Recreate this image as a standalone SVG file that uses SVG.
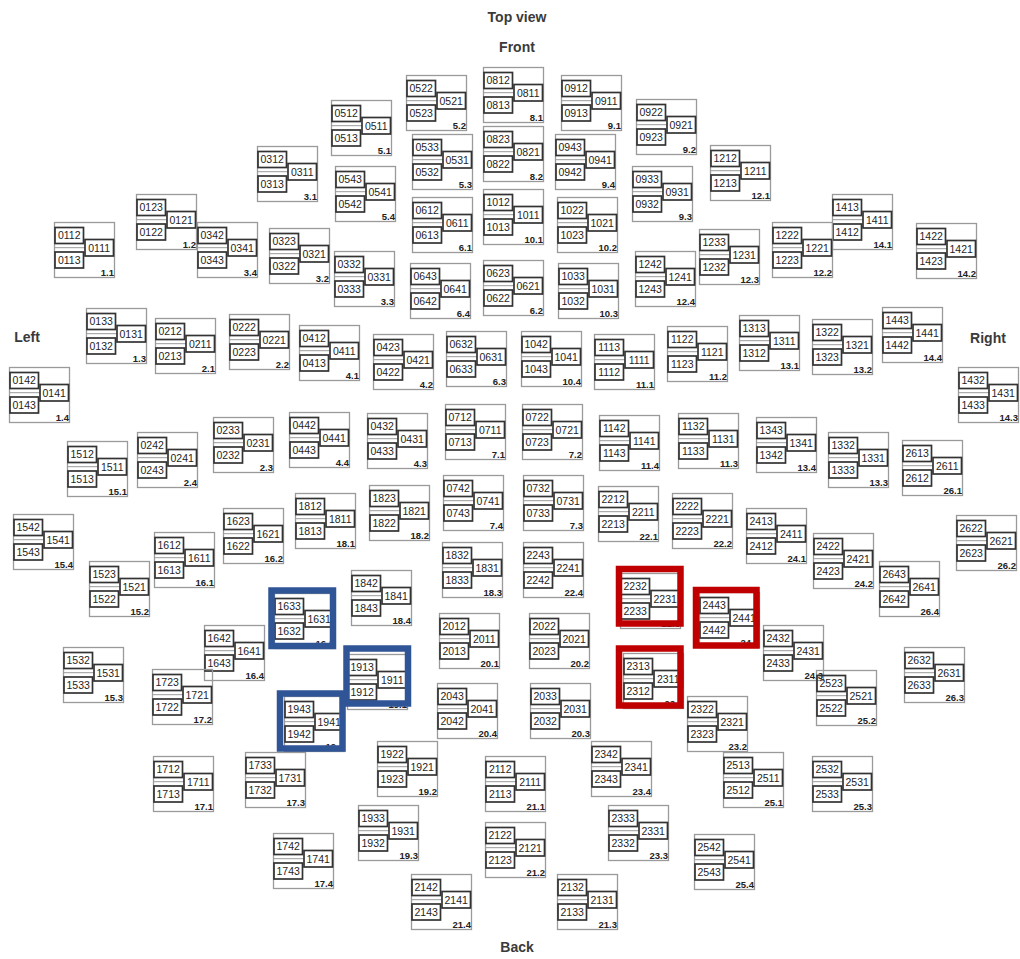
<svg xmlns="http://www.w3.org/2000/svg" xmlns:xlink="http://www.w3.org/1999/xlink" width="1020" height="959" viewBox="0 0 1020 959">
<style>
.o{fill:none;stroke:#9a9a9a;stroke-width:1.3}
.i{fill:none;stroke:#333;stroke-width:1.7}
.h{stroke:#9a9a9a;stroke-width:1}
.a{font-family:"Liberation Sans",Arial,sans-serif;font-size:10.5px;fill:#1e1e1e;text-anchor:middle}
.n{font-family:"Liberation Sans",Arial,sans-serif;font-size:9.5px;font-weight:bold;fill:#222;text-anchor:end}
.t{font-family:"Liberation Sans",Arial,sans-serif;font-size:14px;font-weight:bold;fill:#3a3a3a;text-anchor:middle}
.fb{fill:none;stroke:#2f5597;stroke-width:6.5}
.fr{fill:none;stroke:#c00000;stroke-width:6.5}
</style>
<defs>
<g id="mod">
<rect class="o" x="0.5" y="0.5" width="60" height="55"/>
<line class="h" x1="0.5" y1="25.7" x2="31" y2="25.7"/>
<rect class="i" x="1" y="5.5" width="28.5" height="16"/>
<rect class="i" x="31" y="17.5" width="28.5" height="16.5"/>
<rect class="i" x="1" y="30" width="28.5" height="16"/>
</g>
</defs>
<rect width="1020" height="959" fill="#fff"/>
<g id="labels">
<text class="t" x="517" y="22">Top view</text>
<text class="t" x="517" y="52">Front</text>
<text class="t" x="27" y="342">Left</text>
<text class="t" x="988" y="343">Right</text>
<text class="t" x="517" y="952">Back</text>
</g>
<g id="modules">
<g id="loc1-1" transform="translate(54,222)"><use href="#mod"/><text class="a" x="15.2" y="17.4">0112</text><text class="a" x="45.2" y="29.7">0111</text><text class="a" x="15.2" y="41.9">0113</text><text class="n" x="60" y="54">1.1</text></g>
<g id="loc1-2" transform="translate(136,194)"><use href="#mod"/><text class="a" x="15.2" y="17.4">0123</text><text class="a" x="45.2" y="29.7">0121</text><text class="a" x="15.2" y="41.9">0122</text><text class="n" x="60" y="54">1.2</text></g>
<g id="loc3-4" transform="translate(197,222)"><use href="#mod"/><text class="a" x="15.2" y="17.4">0342</text><text class="a" x="45.2" y="29.7">0341</text><text class="a" x="15.2" y="41.9">0343</text><text class="n" x="60" y="54">3.4</text></g>
<g id="loc3-1" transform="translate(257,146)"><use href="#mod"/><text class="a" x="15.2" y="17.4">0312</text><text class="a" x="45.2" y="29.7">0311</text><text class="a" x="15.2" y="41.9">0313</text><text class="n" x="60" y="54">3.1</text></g>
<g id="loc3-2" transform="translate(269,228)"><use href="#mod"/><text class="a" x="15.2" y="17.4">0323</text><text class="a" x="45.2" y="29.7">0321</text><text class="a" x="15.2" y="41.9">0322</text><text class="n" x="60" y="54">3.2</text></g>
<g id="loc3-3" transform="translate(334,251)"><use href="#mod"/><text class="a" x="15.2" y="17.4">0332</text><text class="a" x="45.2" y="29.7">0331</text><text class="a" x="15.2" y="41.9">0333</text><text class="n" x="60" y="54">3.3</text></g>
<g id="loc5-1" transform="translate(331,100)"><use href="#mod"/><text class="a" x="15.2" y="17.4">0512</text><text class="a" x="45.2" y="29.7">0511</text><text class="a" x="15.2" y="41.9">0513</text><text class="n" x="60" y="54">5.1</text></g>
<g id="loc5-2" transform="translate(406,75)"><use href="#mod"/><text class="a" x="15.2" y="17.4">0522</text><text class="a" x="45.2" y="29.7">0521</text><text class="a" x="15.2" y="41.9">0523</text><text class="n" x="60" y="54">5.2</text></g>
<g id="loc5-3" transform="translate(412,134)"><use href="#mod"/><text class="a" x="15.2" y="17.4">0533</text><text class="a" x="45.2" y="29.7">0531</text><text class="a" x="15.2" y="41.9">0532</text><text class="n" x="60" y="54">5.3</text></g>
<g id="loc5-4" transform="translate(335,166)"><use href="#mod"/><text class="a" x="15.2" y="17.4">0543</text><text class="a" x="45.2" y="29.7">0541</text><text class="a" x="15.2" y="41.9">0542</text><text class="n" x="60" y="54">5.4</text></g>
<g id="loc6-1" transform="translate(412,197)"><use href="#mod"/><text class="a" x="15.2" y="17.4">0612</text><text class="a" x="45.2" y="29.7">0611</text><text class="a" x="15.2" y="41.9">0613</text><text class="n" x="60" y="54">6.1</text></g>
<g id="loc6-4" transform="translate(410,263)"><use href="#mod"/><text class="a" x="15.2" y="17.4">0643</text><text class="a" x="45.2" y="29.7">0641</text><text class="a" x="15.2" y="41.9">0642</text><text class="n" x="60" y="54">6.4</text></g>
<g id="loc8-1" transform="translate(483,67)"><use href="#mod"/><text class="a" x="15.2" y="17.4">0812</text><text class="a" x="45.2" y="29.7">0811</text><text class="a" x="15.2" y="41.9">0813</text><text class="n" x="60" y="54">8.1</text></g>
<g id="loc8-2" transform="translate(483,126)"><use href="#mod"/><text class="a" x="15.2" y="17.4">0823</text><text class="a" x="45.2" y="29.7">0821</text><text class="a" x="15.2" y="41.9">0822</text><text class="n" x="60" y="54">8.2</text></g>
<g id="loc10-1" transform="translate(483,189)"><use href="#mod"/><text class="a" x="15.2" y="17.4">1012</text><text class="a" x="45.2" y="29.7">1011</text><text class="a" x="15.2" y="41.9">1013</text><text class="n" x="60" y="54">10.1</text></g>
<g id="loc6-2" transform="translate(483,260)"><use href="#mod"/><text class="a" x="15.2" y="17.4">0623</text><text class="a" x="45.2" y="29.7">0621</text><text class="a" x="15.2" y="41.9">0622</text><text class="n" x="60" y="54">6.2</text></g>
<g id="loc9-1" transform="translate(561,75)"><use href="#mod"/><text class="a" x="15.2" y="17.4">0912</text><text class="a" x="45.2" y="29.7">0911</text><text class="a" x="15.2" y="41.9">0913</text><text class="n" x="60" y="54">9.1</text></g>
<g id="loc9-4" transform="translate(555,134)"><use href="#mod"/><text class="a" x="15.2" y="17.4">0943</text><text class="a" x="45.2" y="29.7">0941</text><text class="a" x="15.2" y="41.9">0942</text><text class="n" x="60" y="54">9.4</text></g>
<g id="loc9-2" transform="translate(636,99)"><use href="#mod"/><text class="a" x="15.2" y="17.4">0922</text><text class="a" x="45.2" y="29.7">0921</text><text class="a" x="15.2" y="41.9">0923</text><text class="n" x="60" y="54">9.2</text></g>
<g id="loc9-3" transform="translate(632,166)"><use href="#mod"/><text class="a" x="15.2" y="17.4">0933</text><text class="a" x="45.2" y="29.7">0931</text><text class="a" x="15.2" y="41.9">0932</text><text class="n" x="60" y="54">9.3</text></g>
<g id="loc12-1" transform="translate(710,145)"><use href="#mod"/><text class="a" x="15.2" y="17.4">1212</text><text class="a" x="45.2" y="29.7">1211</text><text class="a" x="15.2" y="41.9">1213</text><text class="n" x="60" y="54">12.1</text></g>
<g id="loc10-2" transform="translate(557,197)"><use href="#mod"/><text class="a" x="15.2" y="17.4">1022</text><text class="a" x="45.2" y="29.7">1021</text><text class="a" x="15.2" y="41.9">1023</text><text class="n" x="60" y="54">10.2</text></g>
<g id="loc12-3" transform="translate(699,229)"><use href="#mod"/><text class="a" x="15.2" y="17.4">1233</text><text class="a" x="45.2" y="29.7">1231</text><text class="a" x="15.2" y="41.9">1232</text><text class="n" x="60" y="54">12.3</text></g>
<g id="loc12-4" transform="translate(635,251)"><use href="#mod"/><text class="a" x="15.2" y="17.4">1242</text><text class="a" x="45.2" y="29.7">1241</text><text class="a" x="15.2" y="41.9">1243</text><text class="n" x="60" y="54">12.4</text></g>
<g id="loc10-3" transform="translate(558,263)"><use href="#mod"/><text class="a" x="15.2" y="17.4">1033</text><text class="a" x="45.2" y="29.7">1031</text><text class="a" x="15.2" y="41.9">1032</text><text class="n" x="60" y="54">10.3</text></g>
<g id="loc14-1" transform="translate(832,194)"><use href="#mod"/><text class="a" x="15.2" y="17.4">1413</text><text class="a" x="45.2" y="29.7">1411</text><text class="a" x="15.2" y="41.9">1412</text><text class="n" x="60" y="54">14.1</text></g>
<g id="loc12-2" transform="translate(772,222)"><use href="#mod"/><text class="a" x="15.2" y="17.4">1222</text><text class="a" x="45.2" y="29.7">1221</text><text class="a" x="15.2" y="41.9">1223</text><text class="n" x="60" y="54">12.2</text></g>
<g id="loc14-2" transform="translate(916,223)"><use href="#mod"/><text class="a" x="15.2" y="17.4">1422</text><text class="a" x="45.2" y="29.7">1421</text><text class="a" x="15.2" y="41.9">1423</text><text class="n" x="60" y="54">14.2</text></g>
<g id="loc1-3" transform="translate(86,308)"><use href="#mod"/><text class="a" x="15.2" y="17.4">0133</text><text class="a" x="45.2" y="29.7">0131</text><text class="a" x="15.2" y="41.9">0132</text><text class="n" x="60" y="54">1.3</text></g>
<g id="loc2-1" transform="translate(155,318)"><use href="#mod"/><text class="a" x="15.2" y="17.4">0212</text><text class="a" x="45.2" y="29.7">0211</text><text class="a" x="15.2" y="41.9">0213</text><text class="n" x="60" y="54">2.1</text></g>
<g id="loc2-2" transform="translate(229,314)"><use href="#mod"/><text class="a" x="15.2" y="17.4">0222</text><text class="a" x="45.2" y="29.7">0221</text><text class="a" x="15.2" y="41.9">0223</text><text class="n" x="60" y="54">2.2</text></g>
<g id="loc1-4" transform="translate(9,367)"><use href="#mod"/><text class="a" x="15.2" y="17.4">0142</text><text class="a" x="45.2" y="29.7">0141</text><text class="a" x="15.2" y="41.9">0143</text><text class="n" x="60" y="54">1.4</text></g>
<g id="loc15-1" transform="translate(67,441)"><use href="#mod"/><text class="a" x="15.2" y="17.4">1512</text><text class="a" x="45.2" y="29.7">1511</text><text class="a" x="15.2" y="41.9">1513</text><text class="n" x="60" y="54">15.1</text></g>
<g id="loc2-4" transform="translate(137,432)"><use href="#mod"/><text class="a" x="15.2" y="17.4">0242</text><text class="a" x="45.2" y="29.7">0241</text><text class="a" x="15.2" y="41.9">0243</text><text class="n" x="60" y="54">2.4</text></g>
<g id="loc2-3" transform="translate(213,417)"><use href="#mod"/><text class="a" x="15.2" y="17.4">0233</text><text class="a" x="45.2" y="29.7">0231</text><text class="a" x="15.2" y="41.9">0232</text><text class="n" x="60" y="54">2.3</text></g>
<g id="loc15-4" transform="translate(13,514)"><use href="#mod"/><text class="a" x="15.2" y="17.4">1542</text><text class="a" x="45.2" y="29.7">1541</text><text class="a" x="15.2" y="41.9">1543</text><text class="n" x="60" y="54">15.4</text></g>
<g id="loc16-1" transform="translate(154,532)"><use href="#mod"/><text class="a" x="15.2" y="17.4">1612</text><text class="a" x="45.2" y="29.7">1611</text><text class="a" x="15.2" y="41.9">1613</text><text class="n" x="60" y="54">16.1</text></g>
<g id="loc16-2" transform="translate(223,508)"><use href="#mod"/><text class="a" x="15.2" y="17.4">1623</text><text class="a" x="45.2" y="29.7">1621</text><text class="a" x="15.2" y="41.9">1622</text><text class="n" x="60" y="54">16.2</text></g>
<g id="loc15-2" transform="translate(89,561)"><use href="#mod"/><text class="a" x="15.2" y="17.4">1523</text><text class="a" x="45.2" y="29.7">1521</text><text class="a" x="15.2" y="41.9">1522</text><text class="n" x="60" y="54">15.2</text></g>
<g id="loc4-1" transform="translate(299,325)"><use href="#mod"/><text class="a" x="15.2" y="17.4">0412</text><text class="a" x="45.2" y="29.7">0411</text><text class="a" x="15.2" y="41.9">0413</text><text class="n" x="60" y="54">4.1</text></g>
<g id="loc4-2" transform="translate(373,334)"><use href="#mod"/><text class="a" x="15.2" y="17.4">0423</text><text class="a" x="45.2" y="29.7">0421</text><text class="a" x="15.2" y="41.9">0422</text><text class="n" x="60" y="54">4.2</text></g>
<g id="loc6-3" transform="translate(446,331)"><use href="#mod"/><text class="a" x="15.2" y="17.4">0632</text><text class="a" x="45.2" y="29.7">0631</text><text class="a" x="15.2" y="41.9">0633</text><text class="n" x="60" y="54">6.3</text></g>
<g id="loc4-4" transform="translate(289,412)"><use href="#mod"/><text class="a" x="15.2" y="17.4">0442</text><text class="a" x="45.2" y="29.7">0441</text><text class="a" x="15.2" y="41.9">0443</text><text class="n" x="60" y="54">4.4</text></g>
<g id="loc4-3" transform="translate(367,413)"><use href="#mod"/><text class="a" x="15.2" y="17.4">0432</text><text class="a" x="45.2" y="29.7">0431</text><text class="a" x="15.2" y="41.9">0433</text><text class="n" x="60" y="54">4.3</text></g>
<g id="loc7-1" transform="translate(445,404)"><use href="#mod"/><text class="a" x="15.2" y="17.4">0712</text><text class="a" x="45.2" y="29.7">0711</text><text class="a" x="15.2" y="41.9">0713</text><text class="n" x="60" y="54">7.1</text></g>
<g id="loc18-1" transform="translate(295,493)"><use href="#mod"/><text class="a" x="15.2" y="17.4">1812</text><text class="a" x="45.2" y="29.7">1811</text><text class="a" x="15.2" y="41.9">1813</text><text class="n" x="60" y="54">18.1</text></g>
<g id="loc18-2" transform="translate(369,485)"><use href="#mod"/><text class="a" x="15.2" y="17.4">1823</text><text class="a" x="45.2" y="29.7">1821</text><text class="a" x="15.2" y="41.9">1822</text><text class="n" x="60" y="54">18.2</text></g>
<g id="loc7-4" transform="translate(443,475)"><use href="#mod"/><text class="a" x="15.2" y="17.4">0742</text><text class="a" x="45.2" y="29.7">0741</text><text class="a" x="15.2" y="41.9">0743</text><text class="n" x="60" y="54">7.4</text></g>
<g id="loc18-3" transform="translate(442,542)"><use href="#mod"/><text class="a" x="15.2" y="17.4">1832</text><text class="a" x="45.2" y="29.7">1831</text><text class="a" x="15.2" y="41.9">1833</text><text class="n" x="60" y="54">18.3</text></g>
<g id="loc18-4" transform="translate(351,570)"><use href="#mod"/><text class="a" x="15.2" y="17.4">1842</text><text class="a" x="45.2" y="29.7">1841</text><text class="a" x="15.2" y="41.9">1843</text><text class="n" x="60" y="54">18.4</text></g>
<g id="loc16-3" transform="translate(274,593)"><use href="#mod"/><text class="a" x="15.2" y="17.4">1633</text><text class="a" x="45.2" y="29.7">1631</text><text class="a" x="15.2" y="41.9">1632</text><text class="n" x="60" y="54">16.3</text></g>
<g id="loc20-1" transform="translate(439,613)"><use href="#mod"/><text class="a" x="15.2" y="17.4">2012</text><text class="a" x="45.2" y="29.7">2011</text><text class="a" x="15.2" y="41.9">2013</text><text class="n" x="60" y="54">20.1</text></g>
<g id="loc10-4" transform="translate(521,331)"><use href="#mod"/><text class="a" x="15.2" y="17.4">1042</text><text class="a" x="45.2" y="29.7">1041</text><text class="a" x="15.2" y="41.9">1043</text><text class="n" x="60" y="54">10.4</text></g>
<g id="loc11-1" transform="translate(594,334)"><use href="#mod"/><text class="a" x="15.2" y="17.4">1113</text><text class="a" x="45.2" y="29.7">1111</text><text class="a" x="15.2" y="41.9">1112</text><text class="n" x="60" y="54">11.1</text></g>
<g id="loc11-2" transform="translate(667,326)"><use href="#mod"/><text class="a" x="15.2" y="17.4">1122</text><text class="a" x="45.2" y="29.7">1121</text><text class="a" x="15.2" y="41.9">1123</text><text class="n" x="60" y="54">11.2</text></g>
<g id="loc13-1" transform="translate(739,315)"><use href="#mod"/><text class="a" x="15.2" y="17.4">1313</text><text class="a" x="45.2" y="29.7">1311</text><text class="a" x="15.2" y="41.9">1312</text><text class="n" x="60" y="54">13.1</text></g>
<g id="loc7-2" transform="translate(522,404)"><use href="#mod"/><text class="a" x="15.2" y="17.4">0722</text><text class="a" x="45.2" y="29.7">0721</text><text class="a" x="15.2" y="41.9">0723</text><text class="n" x="60" y="54">7.2</text></g>
<g id="loc11-4" transform="translate(599,415)"><use href="#mod"/><text class="a" x="15.2" y="17.4">1142</text><text class="a" x="45.2" y="29.7">1141</text><text class="a" x="15.2" y="41.9">1143</text><text class="n" x="60" y="54">11.4</text></g>
<g id="loc11-3" transform="translate(678,413)"><use href="#mod"/><text class="a" x="15.2" y="17.4">1132</text><text class="a" x="45.2" y="29.7">1131</text><text class="a" x="15.2" y="41.9">1133</text><text class="n" x="60" y="54">11.3</text></g>
<g id="loc7-3" transform="translate(523,475)"><use href="#mod"/><text class="a" x="15.2" y="17.4">0732</text><text class="a" x="45.2" y="29.7">0731</text><text class="a" x="15.2" y="41.9">0733</text><text class="n" x="60" y="54">7.3</text></g>
<g id="loc22-1" transform="translate(598,486)"><use href="#mod"/><text class="a" x="15.2" y="17.4">2212</text><text class="a" x="45.2" y="29.7">2211</text><text class="a" x="15.2" y="41.9">2213</text><text class="n" x="60" y="54">22.1</text></g>
<g id="loc22-2" transform="translate(672,493)"><use href="#mod"/><text class="a" x="15.2" y="17.4">2222</text><text class="a" x="45.2" y="29.7">2221</text><text class="a" x="15.2" y="41.9">2223</text><text class="n" x="60" y="54">22.2</text></g>
<g id="loc22-4" transform="translate(523,542)"><use href="#mod"/><text class="a" x="15.2" y="17.4">2243</text><text class="a" x="45.2" y="29.7">2241</text><text class="a" x="15.2" y="41.9">2242</text><text class="n" x="60" y="54">22.4</text></g>
<g id="loc22-3" transform="translate(620,573)"><use href="#mod"/><text class="a" x="15.2" y="17.4">2232</text><text class="a" x="45.2" y="29.7">2231</text><text class="a" x="15.2" y="41.9">2233</text><text class="n" x="60" y="54">22.3</text></g>
<g id="loc24-4" transform="translate(699,592)"><use href="#mod"/><text class="a" x="15.2" y="17.4">2443</text><text class="a" x="45.2" y="29.7">2441</text><text class="a" x="15.2" y="41.9">2442</text><text class="n" x="60" y="54">24.4</text></g>
<g id="loc20-2" transform="translate(529,613)"><use href="#mod"/><text class="a" x="15.2" y="17.4">2022</text><text class="a" x="45.2" y="29.7">2021</text><text class="a" x="15.2" y="41.9">2023</text><text class="n" x="60" y="54">20.2</text></g>
<g id="loc13-2" transform="translate(812,319)"><use href="#mod"/><text class="a" x="15.2" y="17.4">1322</text><text class="a" x="45.2" y="29.7">1321</text><text class="a" x="15.2" y="41.9">1323</text><text class="n" x="60" y="54">13.2</text></g>
<g id="loc14-4" transform="translate(882,307)"><use href="#mod"/><text class="a" x="15.2" y="17.4">1443</text><text class="a" x="45.2" y="29.7">1441</text><text class="a" x="15.2" y="41.9">1442</text><text class="n" x="60" y="54">14.4</text></g>
<g id="loc14-3" transform="translate(958,367)"><use href="#mod"/><text class="a" x="15.2" y="17.4">1432</text><text class="a" x="45.2" y="29.7">1431</text><text class="a" x="15.2" y="41.9">1433</text><text class="n" x="60" y="54">14.3</text></g>
<g id="loc13-4" transform="translate(756,417)"><use href="#mod"/><text class="a" x="15.2" y="17.4">1343</text><text class="a" x="45.2" y="29.7">1341</text><text class="a" x="15.2" y="41.9">1342</text><text class="n" x="60" y="54">13.4</text></g>
<g id="loc13-3" transform="translate(828,432)"><use href="#mod"/><text class="a" x="15.2" y="17.4">1332</text><text class="a" x="45.2" y="29.7">1331</text><text class="a" x="15.2" y="41.9">1333</text><text class="n" x="60" y="54">13.3</text></g>
<g id="loc26-1" transform="translate(902,440)"><use href="#mod"/><text class="a" x="15.2" y="17.4">2613</text><text class="a" x="45.2" y="29.7">2611</text><text class="a" x="15.2" y="41.9">2612</text><text class="n" x="60" y="54">26.1</text></g>
<g id="loc24-1" transform="translate(746,508)"><use href="#mod"/><text class="a" x="15.2" y="17.4">2413</text><text class="a" x="45.2" y="29.7">2411</text><text class="a" x="15.2" y="41.9">2412</text><text class="n" x="60" y="54">24.1</text></g>
<g id="loc24-2" transform="translate(813,533)"><use href="#mod"/><text class="a" x="15.2" y="17.4">2422</text><text class="a" x="45.2" y="29.7">2421</text><text class="a" x="15.2" y="41.9">2423</text><text class="n" x="60" y="54">24.2</text></g>
<g id="loc26-4" transform="translate(879,561)"><use href="#mod"/><text class="a" x="15.2" y="17.4">2643</text><text class="a" x="45.2" y="29.7">2641</text><text class="a" x="15.2" y="41.9">2642</text><text class="n" x="60" y="54">26.4</text></g>
<g id="loc26-2" transform="translate(956,515)"><use href="#mod"/><text class="a" x="15.2" y="17.4">2622</text><text class="a" x="45.2" y="29.7">2621</text><text class="a" x="15.2" y="41.9">2623</text><text class="n" x="60" y="54">26.2</text></g>
<g id="loc24-3" transform="translate(763,625)"><use href="#mod"/><text class="a" x="15.2" y="17.4">2432</text><text class="a" x="45.2" y="29.7">2431</text><text class="a" x="15.2" y="41.9">2433</text><text class="n" x="60" y="54">24.3</text></g>
<g id="loc15-3" transform="translate(63,647)"><use href="#mod"/><text class="a" x="15.2" y="17.4">1532</text><text class="a" x="45.2" y="29.7">1531</text><text class="a" x="15.2" y="41.9">1533</text><text class="n" x="60" y="54">15.3</text></g>
<g id="loc16-4" transform="translate(204,625)"><use href="#mod"/><text class="a" x="15.2" y="17.4">1642</text><text class="a" x="45.2" y="29.7">1641</text><text class="a" x="15.2" y="41.9">1643</text><text class="n" x="60" y="54">16.4</text></g>
<g id="loc17-2" transform="translate(152,669)"><use href="#mod"/><text class="a" x="15.2" y="17.4">1723</text><text class="a" x="45.2" y="29.7">1721</text><text class="a" x="15.2" y="41.9">1722</text><text class="n" x="60" y="54">17.2</text></g>
<g id="loc17-1" transform="translate(153,756)"><use href="#mod"/><text class="a" x="15.2" y="17.4">1712</text><text class="a" x="45.2" y="29.7">1711</text><text class="a" x="15.2" y="41.9">1713</text><text class="n" x="60" y="54">17.1</text></g>
<g id="loc17-3" transform="translate(245,752)"><use href="#mod"/><text class="a" x="15.2" y="17.4">1733</text><text class="a" x="45.2" y="29.7">1731</text><text class="a" x="15.2" y="41.9">1732</text><text class="n" x="60" y="54">17.3</text></g>
<g id="loc19-1" transform="translate(347,654)"><use href="#mod"/><text class="a" x="15.2" y="17.4">1913</text><text class="a" x="45.2" y="29.7">1911</text><text class="a" x="15.2" y="41.9">1912</text><text class="n" x="60" y="54">19.1</text></g>
<g id="loc19-4" transform="translate(284,696)"><use href="#mod"/><text class="a" x="15.2" y="17.4">1943</text><text class="a" x="45.2" y="29.7">1941</text><text class="a" x="15.2" y="41.9">1942</text><text class="n" x="60" y="54">19.4</text></g>
<g id="loc20-4" transform="translate(437,683)"><use href="#mod"/><text class="a" x="15.2" y="17.4">2043</text><text class="a" x="45.2" y="29.7">2041</text><text class="a" x="15.2" y="41.9">2042</text><text class="n" x="60" y="54">20.4</text></g>
<g id="loc19-2" transform="translate(377,741)"><use href="#mod"/><text class="a" x="15.2" y="17.4">1922</text><text class="a" x="45.2" y="29.7">1921</text><text class="a" x="15.2" y="41.9">1923</text><text class="n" x="60" y="54">19.2</text></g>
<g id="loc19-3" transform="translate(358,805)"><use href="#mod"/><text class="a" x="15.2" y="17.4">1933</text><text class="a" x="45.2" y="29.7">1931</text><text class="a" x="15.2" y="41.9">1932</text><text class="n" x="60" y="54">19.3</text></g>
<g id="loc17-4" transform="translate(273,833)"><use href="#mod"/><text class="a" x="15.2" y="17.4">1742</text><text class="a" x="45.2" y="29.7">1741</text><text class="a" x="15.2" y="41.9">1743</text><text class="n" x="60" y="54">17.4</text></g>
<g id="loc21-1" transform="translate(485,756)"><use href="#mod"/><text class="a" x="15.2" y="17.4">2112</text><text class="a" x="45.2" y="29.7">2111</text><text class="a" x="15.2" y="41.9">2113</text><text class="n" x="60" y="54">21.1</text></g>
<g id="loc21-2" transform="translate(485,822)"><use href="#mod"/><text class="a" x="15.2" y="17.4">2122</text><text class="a" x="45.2" y="29.7">2121</text><text class="a" x="15.2" y="41.9">2123</text><text class="n" x="60" y="54">21.2</text></g>
<g id="loc21-4" transform="translate(411,874)"><use href="#mod"/><text class="a" x="15.2" y="17.4">2142</text><text class="a" x="45.2" y="29.7">2141</text><text class="a" x="15.2" y="41.9">2143</text><text class="n" x="60" y="54">21.4</text></g>
<g id="loc23-1" transform="translate(623,653)"><use href="#mod"/><text class="a" x="15.2" y="17.4">2313</text><text class="a" x="45.2" y="29.7">2311</text><text class="a" x="15.2" y="41.9">2312</text><text class="n" x="60" y="54">23.1</text></g>
<g id="loc20-3" transform="translate(530,683)"><use href="#mod"/><text class="a" x="15.2" y="17.4">2033</text><text class="a" x="45.2" y="29.7">2031</text><text class="a" x="15.2" y="41.9">2032</text><text class="n" x="60" y="54">20.3</text></g>
<g id="loc23-2" transform="translate(687,696)"><use href="#mod"/><text class="a" x="15.2" y="17.4">2322</text><text class="a" x="45.2" y="29.7">2321</text><text class="a" x="15.2" y="41.9">2323</text><text class="n" x="60" y="54">23.2</text></g>
<g id="loc23-4" transform="translate(591,741)"><use href="#mod"/><text class="a" x="15.2" y="17.4">2342</text><text class="a" x="45.2" y="29.7">2341</text><text class="a" x="15.2" y="41.9">2343</text><text class="n" x="60" y="54">23.4</text></g>
<g id="loc25-1" transform="translate(723,752)"><use href="#mod"/><text class="a" x="15.2" y="17.4">2513</text><text class="a" x="45.2" y="29.7">2511</text><text class="a" x="15.2" y="41.9">2512</text><text class="n" x="60" y="54">25.1</text></g>
<g id="loc23-3" transform="translate(608,805)"><use href="#mod"/><text class="a" x="15.2" y="17.4">2333</text><text class="a" x="45.2" y="29.7">2331</text><text class="a" x="15.2" y="41.9">2332</text><text class="n" x="60" y="54">23.3</text></g>
<g id="loc25-4" transform="translate(694,834)"><use href="#mod"/><text class="a" x="15.2" y="17.4">2542</text><text class="a" x="45.2" y="29.7">2541</text><text class="a" x="15.2" y="41.9">2543</text><text class="n" x="60" y="54">25.4</text></g>
<g id="loc21-3" transform="translate(557,874)"><use href="#mod"/><text class="a" x="15.2" y="17.4">2132</text><text class="a" x="45.2" y="29.7">2131</text><text class="a" x="15.2" y="41.9">2133</text><text class="n" x="60" y="54">21.3</text></g>
<g id="loc25-2" transform="translate(816,670)"><use href="#mod"/><text class="a" x="15.2" y="17.4">2523</text><text class="a" x="45.2" y="29.7">2521</text><text class="a" x="15.2" y="41.9">2522</text><text class="n" x="60" y="54">25.2</text></g>
<g id="loc26-3" transform="translate(904,647)"><use href="#mod"/><text class="a" x="15.2" y="17.4">2632</text><text class="a" x="45.2" y="29.7">2631</text><text class="a" x="15.2" y="41.9">2633</text><text class="n" x="60" y="54">26.3</text></g>
<g id="loc25-3" transform="translate(812,756)"><use href="#mod"/><text class="a" x="15.2" y="17.4">2532</text><text class="a" x="45.2" y="29.7">2531</text><text class="a" x="15.2" y="41.9">2533</text><text class="n" x="60" y="54">25.3</text></g>
</g>
<g id="connectors"></g>
<g id="highlights">
<rect class="fb" x="271.5" y="590.5" width="61.5" height="55.5"/>
<rect class="fb" x="346.5" y="648.5" width="61.5" height="55"/>
<rect class="fb" x="280" y="693.5" width="62.5" height="55"/>
<rect class="fr" x="619" y="569" width="61.5" height="54.5"/>
<rect class="fr" x="696" y="590" width="60.5" height="55.5"/>
<rect class="fr" x="619" y="648.5" width="61.5" height="57"/>
</g>
</svg>
